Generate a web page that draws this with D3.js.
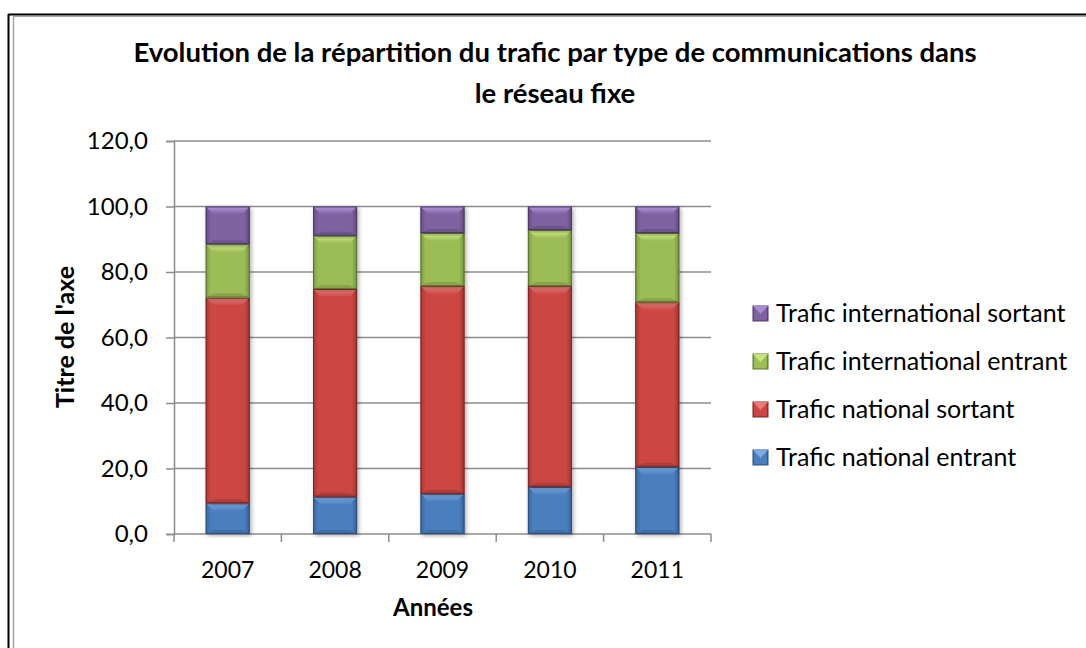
<!DOCTYPE html>
<html>
<head>
<meta charset="utf-8">
<script src="https://cdn.jsdelivr.net/npm/d3@7"></script>
<style>
  body { margin: 0; background: #fff; }
  text { font-family: Lato, "Open Sans", sans-serif; fill: #000; }
</style>
</head>
<body>
<div id="chart"></div>
<script>
// data
var years = ['2007', '2008', '2009', '2010', '2011'];
var seriesNames = ['Trafic national entrant', 'Trafic national sortant',
    'Trafic international entrant', 'Trafic international sortant'];
var nationalEntrant = [9.4, 11.4, 12.3, 14.4, 20.5];
var nationalSortant = [62.8, 63.4, 63.4, 61.3, 50.3];
var internationalEntrant = [16.3, 16.3, 16.2, 17.1, 21.1];
var internationalSortant = [11.5, 8.9, 8.1, 7.2, 8.1];
var yTicks = [0, 20, 40, 60, 80, 100, 120];

var colors = ['#4a7ebf', '#cc4643', '#9cbd57', '#7e62a1'];
var edgeColors = ['#2a4f7e', '#7e2422', '#5b7529', '#4b3866'];
var lightColors = ['#86b6ee', '#f08a86', '#d4ef8a', '#b598dc'];

var svgWidth = 1086, svgHeight = 648;
var margin = { top: 141, left: 174, right: 375, bottom: 114 };
var chartWidth = svgWidth - margin.left - margin.right;
var chartHeight = svgHeight - margin.top - margin.bottom;

var svg = d3.select('#chart').append('svg')
    .attr('width', svgWidth)
    .attr('height', svgHeight);

// frame of the chart area
svg.append('line').attr('x1', 8.5).attr('x2', 8.5).attr('y1', 14).attr('y2', 648)
    .attr('stroke', '#000').attr('stroke-width', 2);
svg.append('line').attr('x1', 8).attr('x2', 1086).attr('y1', 14.5).attr('y2', 14.5)
    .attr('stroke', '#000').attr('stroke-width', 2);
svg.append('line').attr('x1', 13.5).attr('x2', 13.5).attr('y1', 16).attr('y2', 648)
    .attr('stroke', '#a6a6a6').attr('stroke-width', 1.5);
svg.append('line').attr('x1', 13).attr('x2', 1086).attr('y1', 16.5).attr('y2', 16.5)
    .attr('stroke', '#a6a6a6').attr('stroke-width', 1);

// gradients per series
var defs = svg.append('defs');
colors.forEach(function (c, i) {
    var g = defs.append('linearGradient').attr('id', 'grad' + i)
        .attr('x1', '0%').attr('x2', '100%').attr('y1', '0%').attr('y2', '0%');
    g.append('stop').attr('offset', '0%').attr('stop-color', d3.color(c).darker(0.6));
    g.append('stop').attr('offset', '12%').attr('stop-color', c);
    g.append('stop').attr('offset', '88%').attr('stop-color', c);
    g.append('stop').attr('offset', '100%').attr('stop-color', d3.color(c).darker(0.8));
    var t = defs.append('linearGradient').attr('id', 'top' + i)
        .attr('x1', '0%').attr('x2', '0%').attr('y1', '0%').attr('y2', '100%');
    t.append('stop').attr('offset', '0%').attr('stop-color', lightColors[i]);
    t.append('stop').attr('offset', '100%').attr('stop-color', c);
});
var shadow = defs.append('filter').attr('id', 'shadow')
    .attr('x', '-30%').attr('y', '-5%').attr('width', '160%').attr('height', '115%');
shadow.append('feDropShadow').attr('dx', 1.5).attr('dy', 1.5).attr('stdDeviation', 2)
    .attr('flood-color', '#000').attr('flood-opacity', 0.35);

var chartGroup = svg.append('g')
    .attr('transform', `translate(${margin.left}, ${margin.top})`);

// scales
var xscale = d3.scaleBand().domain(years).range([0, chartWidth])
    .paddingInner(0.59).paddingOuter(0.295);
var yscale = d3.scaleLinear().domain([0, 120]).range([chartHeight, 0]);

// gridlines
chartGroup.selectAll('.grid')
    .data(yTicks.slice(1))
    .enter().append('line')
    .attr('x1', 0).attr('x2', chartWidth)
    .attr('y1', d => yscale(d)).attr('y2', d => yscale(d))
    .attr('stroke', '#8c8c8c').attr('stroke-width', 1.5);

// y axis
var leftaxis = d3.axisLeft(yscale).tickValues(yTicks).tickSize(8).tickPadding(18)
    .tickFormat(d => d3.format('.1f')(d).replace('.', ','));
var yAxisG = chartGroup.append('g').call(leftaxis);
yAxisG.select('.domain').attr('stroke', '#8c8c8c').attr('stroke-width', 1.5);
yAxisG.selectAll('.tick line').attr('stroke', '#8c8c8c').attr('stroke-width', 1.5);
yAxisG.selectAll('.tick text').style('font-size', '24px').attr('fill', '#000');

// x axis: ticks between categories
var xAxisG = chartGroup.append('g').attr('transform', `translate(0, ${chartHeight})`);
xAxisG.append('line').attr('x1', 0).attr('x2', chartWidth)
    .attr('stroke', '#8c8c8c').attr('stroke-width', 1.5);
var step = xscale.step();
xAxisG.selectAll('.xtick')
    .data(d3.range(years.length + 1))
    .enter().append('line')
    .attr('x1', d => d * step).attr('x2', d => d * step)
    .attr('y1', 0).attr('y2', 8)
    .attr('stroke', '#8c8c8c').attr('stroke-width', 1.5);
xAxisG.selectAll('.xlabel')
    .data(years)
    .enter().append('text')
    .attr('x', d => xscale(d) + xscale.bandwidth() / 2)
    .attr('y', 44)
    .style('text-anchor', 'middle')
    .style('font-size', '23px')
    .text(d => d);

// stacked bars
var table = years.map(function (y, i) {
    return { year: y, s0: nationalEntrant[i], s1: nationalSortant[i],
        s2: internationalEntrant[i], s3: internationalSortant[i] };
});
var stack = d3.stack().keys(['s0', 's1', 's2', 's3'])(table);

var bw = xscale.bandwidth();
stack.forEach(function (layer, i) {
    var g = chartGroup.append('g');
    layer.forEach(function (d) {
        var x = xscale(d.data.year);
        var y0 = yscale(d[1]), y1 = yscale(d[0]);
        var h = y1 - y0;
        var b = Math.min(8, h / 2);
        g.append('rect')
            .attr('x', x).attr('y', y0).attr('width', bw).attr('height', h)
            .attr('fill', `url(#grad${i})`)
            .attr('filter', 'url(#shadow)');
        g.append('polygon')
            .attr('points', [[x, y0], [x + bw, y0], [x + bw - b, y0 + b], [x + b, y0 + b]].join(' '))
            .attr('fill', `url(#top${i})`);
        g.append('polygon')
            .attr('points', [[x, y1], [x + bw, y1], [x + bw - b, y1 - b * 0.5], [x + b, y1 - b * 0.5]].join(' '))
            .attr('fill', d3.color(colors[i]).darker(0.4));
        g.append('rect')
            .attr('x', x + 0.5).attr('y', y0 + 0.5).attr('width', bw - 1).attr('height', h - 1)
            .attr('fill', 'none').attr('stroke', edgeColors[i]).attr('stroke-width', 1);
    });
});

// title
var title = svg.append('text')
    .attr('text-anchor', 'middle')
    .style('font-size', '27.5px').style('font-weight', 'bold');
title.append('tspan').attr('x', 555).attr('y', 62)
    .text('Evolution de la répartition du trafic par type de communications dans');
title.append('tspan').attr('x', 555).attr('y', 103).text('le réseau fixe');

// axis titles
svg.append('text')
    .attr('x', 433).attr('y', 616)
    .attr('text-anchor', 'middle')
    .style('font-size', '24px').style('font-weight', 'bold')
    .text('Années');
svg.append('text')
    .attr('transform', 'translate(74, 337) rotate(-90)')
    .attr('text-anchor', 'middle')
    .style('font-size', '25px').style('font-weight', 'bold')
    .text("Titre de l'axe");

// legend (reverse order, top is last series)
var legendRows = [3, 2, 1, 0];
var legend = svg.append('g').attr('transform', 'translate(753, 313)');
legendRows.forEach(function (s, r) {
    var row = legend.append('g').attr('transform', `translate(0, ${r * 48})`);
    row.append('rect').attr('x', 0).attr('y', -7).attr('width', 15).attr('height', 15)
        .attr('fill', `url(#grad${s})`).attr('stroke', edgeColors[s]).attr('stroke-width', 1);
    row.append('polygon')
        .attr('points', '0,-7 15,-7 7.5,1')
        .attr('fill', lightColors[s]).attr('opacity', 0.8);
    row.append('text').attr('x', 23).attr('y', 9)
        .style('font-size', '25px')
        .text(seriesNames[s]);
});
</script>
</body>
</html>
